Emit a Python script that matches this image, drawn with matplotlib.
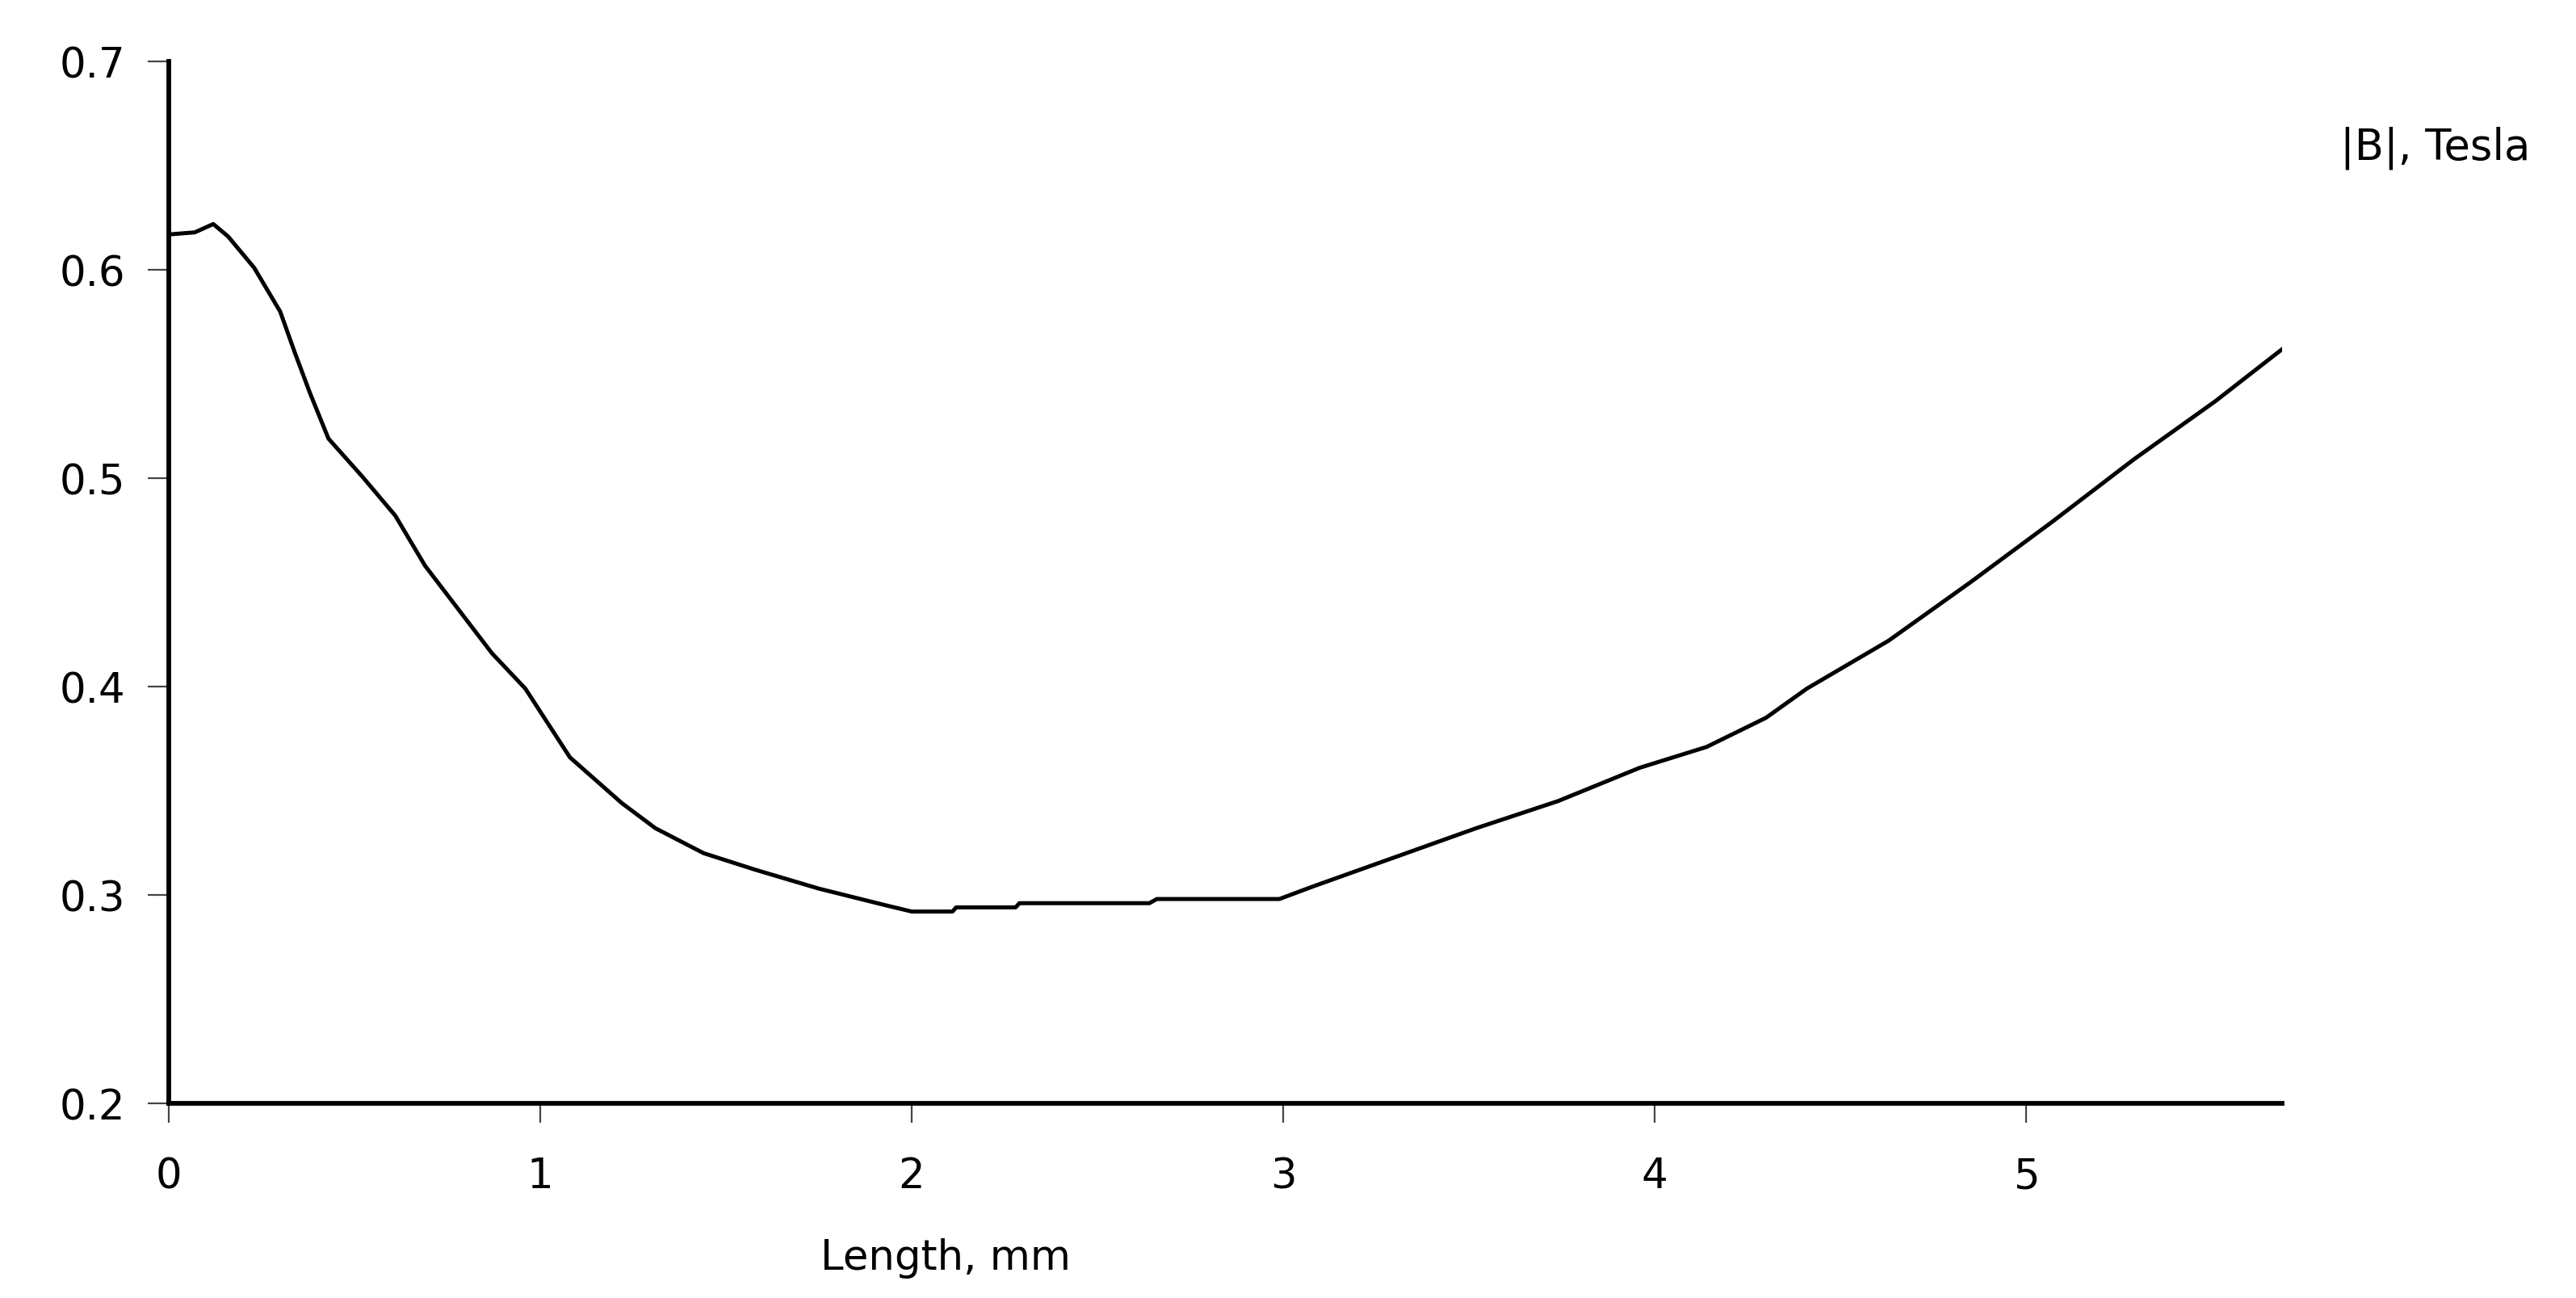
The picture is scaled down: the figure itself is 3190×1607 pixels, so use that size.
import numpy as np
from matplotlib import pyplot as plt

# Field magnitude along the path
length_mm = [0.0, 0.07, 0.12, 0.16, 0.23, 0.30, 0.34, 0.38, 0.43, 0.52, 0.61,
             0.69, 0.78, 0.87, 0.96, 1.08, 1.22, 1.31, 1.44, 1.58, 1.75, 1.93,
             2.00, 2.11, 2.12, 2.28, 2.29, 2.64, 2.66, 2.99, 3.08, 3.30, 3.52,
             3.74, 3.96, 4.14, 4.30, 4.41, 4.63, 4.85, 5.07, 5.29, 5.51, 5.69]
b_tesla = [0.617, 0.618, 0.622, 0.616, 0.601, 0.580, 0.560, 0.541, 0.519,
           0.501, 0.482, 0.458, 0.437, 0.416, 0.399, 0.366, 0.344, 0.332,
           0.320, 0.312, 0.303, 0.295, 0.292, 0.292, 0.294, 0.294, 0.296,
           0.296, 0.298, 0.298, 0.304, 0.318, 0.332, 0.345, 0.361, 0.371,
           0.385, 0.399, 0.422, 0.450, 0.479, 0.509, 0.537, 0.562]

x_ticks = [0, 1, 2, 3, 4, 5]
y_ticks = [0.2, 0.3, 0.4, 0.5, 0.6, 0.7]

plt.rcParams['font.family'] = 'DejaVu Sans'

fig = plt.figure(figsize=(31.9, 16.08), dpi=100)
ax = fig.add_axes([0.0655, 0.150, 0.8205, 0.802])

ax.plot(length_mm, b_tesla, color='black', linewidth=3.6)

ax.set_xlim(0, 5.69)
ax.set_ylim(0.2, 0.7)
ax.set_xticks(x_ticks)
ax.set_yticks(y_ticks)
ax.set_yticklabels([f"{v:.1f}" for v in y_ticks])

for side in ['top', 'right']:
    ax.spines[side].set_visible(False)
for side in ['left', 'bottom']:
    ax.spines[side].set_linewidth(4.2)
    ax.spines[side].set_color('black')

ax.tick_params(axis='y', direction='out', length=19, width=1.6, color='#444444',
               pad=20, labelsize=37)
ax.tick_params(axis='x', direction='out', length=17, width=1.6, color='#444444',
               pad=30, labelsize=37)

fig.text(0.367, 0.031, "Length, mm", ha='center', va='center', fontsize=37)
fig.text(0.9085, 0.886, "|B|, Tesla", ha='left', va='center', fontsize=38)

fig.savefig("out.png", dpi=100, facecolor='white')
